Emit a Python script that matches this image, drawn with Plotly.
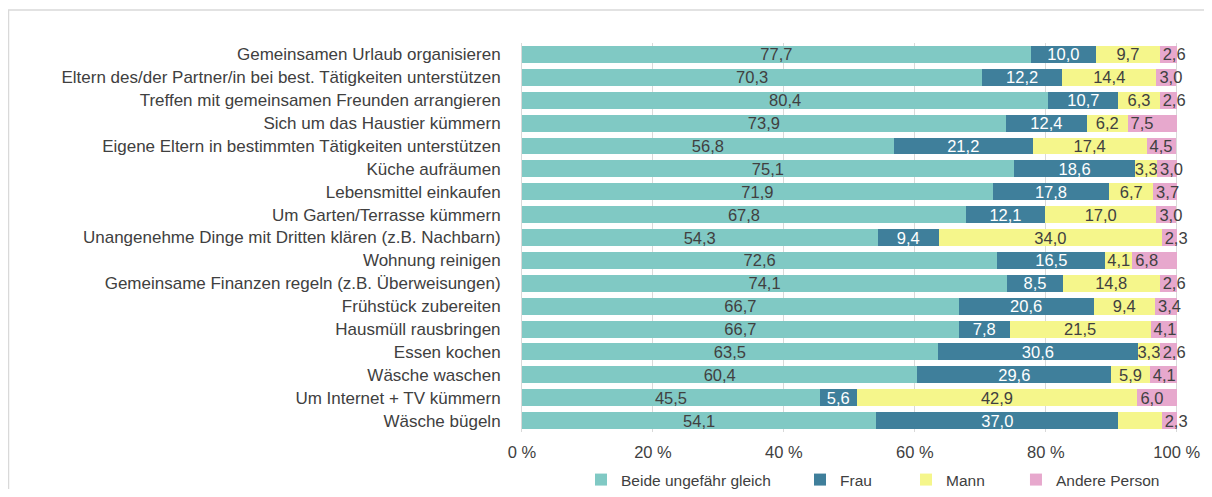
import plotly.graph_objects as go

# Tätigkeiten (von oben nach unten)
kategorien = [
    "Gemeinsamen Urlaub organisieren",
    "Eltern des/der Partner/in bei best. Tätigkeiten unterstützen",
    "Treffen mit gemeinsamen Freunden arrangieren",
    "Sich um das Haustier kümmern",
    "Eigene Eltern in bestimmten Tätigkeiten unterstützen",
    "Küche aufräumen",
    "Lebensmittel einkaufen",
    "Um Garten/Terrasse kümmern",
    "Unangenehme Dinge mit Dritten klären (z.B. Nachbarn)",
    "Wohnung reinigen",
    "Gemeinsame Finanzen regeln (z.B. Überweisungen)",
    "Frühstück zubereiten",
    "Hausmüll rausbringen",
    "Essen kochen",
    "Wäsche waschen",
    "Um Internet + TV kümmern",
    "Wäsche bügeln",
]

beide = [77.7, 70.3, 80.4, 73.9, 56.8, 75.1, 71.9, 67.8, 54.3, 72.6, 74.1, 66.7, 66.7, 63.5, 60.4, 45.5, 54.1]
frau = [10.0, 12.2, 10.7, 12.4, 21.2, 18.6, 17.8, 12.1, 9.4, 16.5, 8.5, 20.6, 7.8, 30.6, 29.6, 5.6, 37.0]
mann = [9.7, 14.4, 6.3, 6.2, 17.4, 3.3, 6.7, 17.0, 34.0, 4.1, 14.8, 9.4, 21.5, 3.3, 5.9, 42.9, 6.6]
andere = [2.6, 3.0, 2.6, 7.5, 4.5, 3.0, 3.7, 3.0, 2.3, 6.8, 2.6, 3.4, 4.1, 2.6, 4.1, 6.0, 2.3]

# Mann-Wert bei "Wäsche bügeln" ist im Original nicht beschriftet
mann_text = ["%.1f" % v for v in mann]
mann_text[-1] = ""

# Name, Werte, Farbe, Textfarbe, Texte, Textanker, Legende, Legendenposition x
reihen = [
    ("Beide ungefähr gleich", beide, "#80c9c4", "#404040", None, "middle", "legend", 0.0899),
    ("Frau", frau, "#3f7f9b", "#ffffff", None, "middle", "legend2", 0.4238),
    ("Mann", mann, "#f5f68b", "#404040", mann_text, "middle", "legend3", 0.5854),
    ("Andere Person", andere, "#e7a8cd", "#404040", None, "start", "legend4", 0.7530),
]

fig = go.Figure()

legenden = {}
for name, werte, farbe, textfarbe, texte, anker, leg, leg_x in reihen:
    if texte is None:
        texte = ["%.1f" % v for v in werte]
    texte = [t.replace(".", ",") for t in texte]
    fig.add_trace(
        go.Bar(
            y=kategorien,
            x=werte,
            name=name,
            orientation="h",
            marker=dict(color=farbe, line=dict(width=0)),
            text=texte,
            textposition="inside",
            insidetextanchor=anker,
            constraintext="none",
            textangle=0,
            cliponaxis=False,
            textfont=dict(color=textfarbe, size=16.5),
            hoverinfo="skip",
            legend=leg,
        )
    )
    # eigene Legende pro Reihe, damit die Abstände wie im Original sind
    legenden[leg] = dict(
        orientation="h",
        x=leg_x,
        xanchor="left",
        y=-0.1234,
        yanchor="middle",
        font=dict(size=15.5, color="#404040"),
        bgcolor="rgba(0,0,0,0)",
        itemwidth=30,
    )

fig.update_layout(
    barmode="stack",
    bargap=0.26,
    width=1196,
    height=481,
    plot_bgcolor="white",
    paper_bgcolor="white",
    font=dict(family="Liberation Sans, Arial, sans-serif", size=16, color="#404040"),
    margin=dict(l=514, r=26, t=35, b=57, pad=0, autoexpand=False),
    showlegend=True,
    # heller Rahmen links und oben
    shapes=[
        dict(
            type="rect",
            xref="paper",
            yref="paper",
            x0=-0.7828,
            x1=1.2,
            y0=-0.4,
            y1=1.0848,
            line=dict(color="#d9d9d9", width=1.5),
            fillcolor="rgba(0,0,0,0)",
            layer="below",
        )
    ],
    **legenden,
)

fig.update_xaxes(
    range=[0, 100.2],
    tick0=0,
    dtick=20,
    ticksuffix=" %",
    showgrid=True,
    gridcolor="#d9d9d9",
    gridwidth=1,
    zeroline=False,
    showline=False,
    tickfont=dict(size=16.5, color="#404040"),
    ticklabelstandoff=8,
    fixedrange=True,
)

fig.update_yaxes(
    autorange="reversed",
    showgrid=False,
    showline=True,
    linecolor="#d9d9d9",
    linewidth=1,
    tickfont=dict(size=17, color="#404040"),
    ticklabelstandoff=17,
    fixedrange=True,
)

fig.write_html("out.html")
